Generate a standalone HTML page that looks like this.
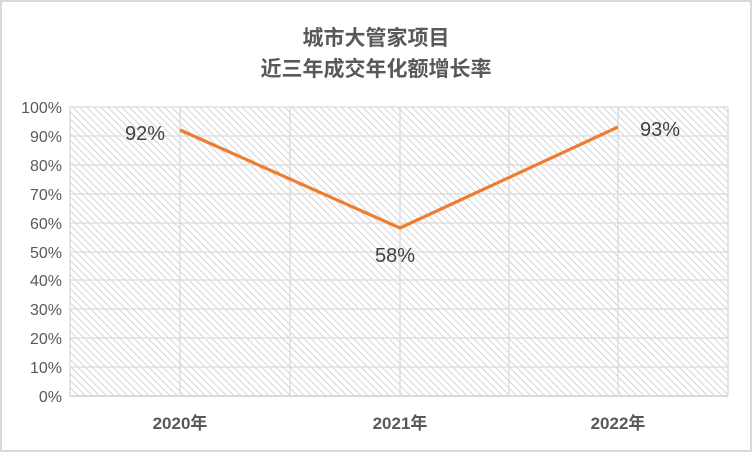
<!DOCTYPE html>
<html><head><meta charset="utf-8"><style>
body{margin:0;background:#fff}
svg{display:block}
</style></head><body>
<svg width="752" height="452" xmlns="http://www.w3.org/2000/svg">
<defs>
<pattern id="h" width="5" height="5" patternUnits="userSpaceOnUse" patternTransform="rotate(-45)">
<rect width="5" height="5" fill="#fff"/>
<line x1="0" y1="0" x2="0" y2="5" stroke="#d4d4d4" stroke-width="2"/>
</pattern>
</defs>
<rect x="1" y="1" width="750" height="450" fill="#fff" stroke="#d9d9d9" stroke-width="2"/>
<text x="376" y="45" text-anchor="middle" font-family="Liberation Sans, Noto Sans CJK SC, sans-serif" font-size="21" font-weight="bold" fill="#595959">城市大管家项目</text>
<text x="376" y="76" text-anchor="middle" font-family="Liberation Sans, Noto Sans CJK SC, sans-serif" font-size="21" font-weight="bold" fill="#595959">近三年成交年化额增长率</text>
<rect x="70" y="107" width="658" height="289" fill="url(#h)"/>
<g stroke="#d9d9d9" stroke-width="1.3">
<line x1="70" y1="107" x2="728" y2="107"/><line x1="70" y1="136" x2="728" y2="136"/><line x1="70" y1="165" x2="728" y2="165"/><line x1="70" y1="194" x2="728" y2="194"/><line x1="70" y1="223" x2="728" y2="223"/><line x1="70" y1="252" x2="728" y2="252"/><line x1="70" y1="280" x2="728" y2="280"/><line x1="70" y1="309" x2="728" y2="309"/><line x1="70" y1="338" x2="728" y2="338"/><line x1="70" y1="367" x2="728" y2="367"/>
<line x1="70" y1="107" x2="70" y2="396"/><line x1="180" y1="107" x2="180" y2="396"/><line x1="290" y1="107" x2="290" y2="396"/><line x1="400" y1="107" x2="400" y2="396"/><line x1="509" y1="107" x2="509" y2="396"/><line x1="618" y1="107" x2="618" y2="396"/><line x1="728" y1="107" x2="728" y2="396"/>
</g>
<line x1="70" y1="396" x2="728" y2="396" stroke="#d9d9d9" stroke-width="2"/>
<g font-family="Liberation Sans, sans-serif" font-size="16" fill="#595959" text-anchor="end">
<text x="62" y="113">100%</text><text x="62" y="142">90%</text><text x="62" y="171">80%</text><text x="62" y="200">70%</text><text x="62" y="229">60%</text><text x="62" y="258">50%</text><text x="62" y="286">40%</text><text x="62" y="315">30%</text><text x="62" y="344">20%</text><text x="62" y="373">10%</text><text x="62" y="402">0%</text>
</g>
<g font-family="Liberation Sans, Noto Sans CJK SC, sans-serif" font-size="17" font-weight="bold" fill="#595959" text-anchor="middle">
<text x="180" y="429">2020年</text><text x="400" y="429">2021年</text><text x="618" y="429">2022年</text>
</g>
<polyline points="180,130 400,228 618,127" fill="none" stroke="#ed7d31" stroke-width="3.2" stroke-linejoin="round"/>
<g font-family="Liberation Sans, sans-serif" font-size="20" fill="#404040" text-anchor="middle">
<text x="145" y="140">92%</text><text x="395" y="262">58%</text><text x="660" y="136">93%</text>
</g>
</svg>
</body></html>
